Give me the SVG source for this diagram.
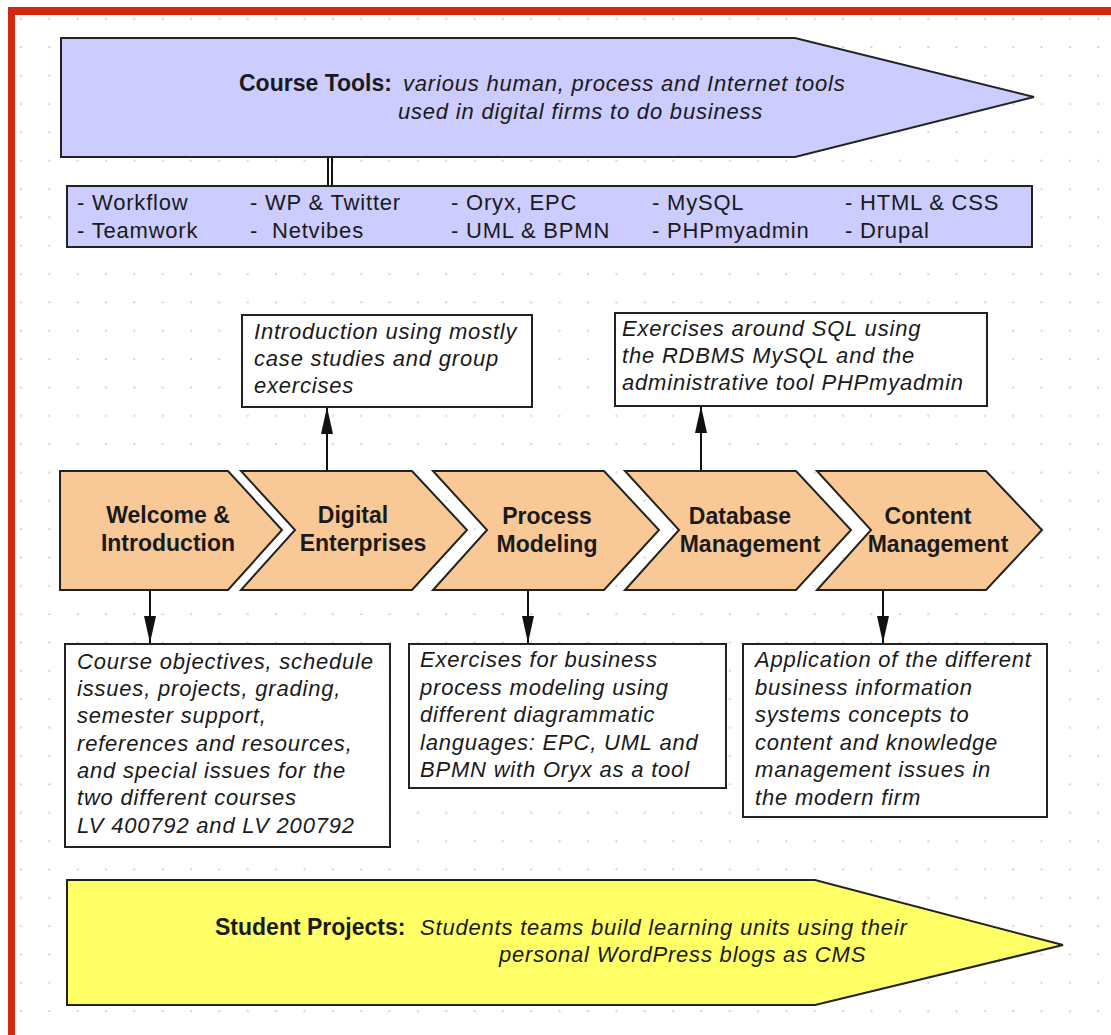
<svg xmlns="http://www.w3.org/2000/svg" width="1111" height="1035" viewBox="0 0 1111 1035">
<style>
.shape{stroke:#222;stroke-width:2;stroke-linejoin:miter}
.lav{fill:#ccccff}
.peach{fill:#f9c897}
.yel{fill:#ffff66}
.box{fill:#fff;stroke:#222;stroke-width:2}
.t{font-family:"Liberation Sans",Arial,sans-serif;fill:#1a1a1a}
.it{font-size:22px;font-style:italic;letter-spacing:0.8px}
.rg{font-size:22px;letter-spacing:0.8px}
.bd{font-size:23px;font-weight:bold}
.ch{font-size:23px;font-weight:bold;text-anchor:middle}
.con{stroke:#111;stroke-width:2;fill:none}
</style>
<defs>
<pattern id="grid" x="7" y="5" width="28.35" height="28.35" patternUnits="userSpaceOnUse">
<circle cx="14" cy="14" r="1" fill="#c4c4c4"/>
</pattern>
<marker id="arr" markerUnits="userSpaceOnUse" markerWidth="28" markerHeight="14" viewBox="0 -7 28 14" refX="27" refY="0" orient="auto">
<path d="M0,-6 L27,0 L0,6 z" fill="#111"/>
</marker>
</defs>
<rect x="0" y="0" width="1111" height="1035" fill="#fff"/>
<rect x="15" y="15" width="1096" height="1020" fill="url(#grid)"/>
<rect x="8" y="7" width="1103" height="8" fill="#d0290f"/>
<rect x="8" y="7" width="7" height="1028" fill="#d0290f"/>

<g id="connectors">
<line x1="328" y1="157" x2="328" y2="186" class="con" stroke-width="1.5"/>
<line x1="332" y1="157" x2="332" y2="186" class="con" stroke-width="1.5"/>
<line x1="327" y1="471" x2="327" y2="407" class="con" marker-end="url(#arr)"/>
<line x1="701" y1="471" x2="701" y2="406" class="con" marker-end="url(#arr)"/>
<line x1="150" y1="590" x2="150" y2="643" class="con" marker-end="url(#arr)"/>
<line x1="528" y1="590" x2="528" y2="643" class="con" marker-end="url(#arr)"/>
<line x1="883" y1="590" x2="883" y2="643" class="con" marker-end="url(#arr)"/>
</g>

<g id="course-tools">
<polygon class="shape lav" points="61,38 795,38 1034,97 795,157 61,157"/>
<text class="t bd" x="239" y="91">Course Tools:</text>
<text class="t it" x="403" y="91">various human, process and Internet tools</text>
<text class="t it" x="398" y="119">used in digital firms to do business</text>
</g>

<g id="tools-list">
<rect class="shape lav" x="67" y="186" width="965" height="61"/>
<text class="t rg" x="77" y="210">- Workflow</text>
<text class="t rg" x="77" y="238">- Teamwork</text>
<text class="t rg" x="250" y="210">- WP &amp; Twitter</text>
<text class="t rg" x="250" y="238" xml:space="preserve">-  Netvibes</text>
<text class="t rg" x="451" y="210">- Oryx, EPC</text>
<text class="t rg" x="451" y="238">- UML &amp; BPMN</text>
<text class="t rg" x="652" y="210">- MySQL</text>
<text class="t rg" x="652" y="238">- PHPmyadmin</text>
<text class="t rg" x="845" y="210">- HTML &amp; CSS</text>
<text class="t rg" x="845" y="238">- Drupal</text>
</g>

<g id="note-digital">
<rect class="box" x="242" y="315" width="290" height="92"/>
<text class="t it" x="254" y="339">Introduction using mostly</text>
<text class="t it" x="254" y="366">case studies and group</text>
<text class="t it" x="254" y="393">exercises</text>
</g>

<g id="note-database">
<rect class="box" x="615" y="313" width="372" height="93"/>
<text class="t it" x="622" y="336">Exercises around SQL using</text>
<text class="t it" x="622" y="363">the RDBMS MySQL and the</text>
<text class="t it" x="622" y="390">administrative tool PHPmyadmin</text>
</g>

<g id="step-welcome">
<polygon class="shape peach" points="60,471 228,471 282,530 228,590 60,590"/>
<text class="t ch" x="168" y="523">Welcome &amp;</text>
<text class="t ch" x="168" y="551">Introduction</text>
</g>
<g id="step-digital">
<polygon class="shape peach" points="241,471 412,471 467,530 412,590 241,590 295,530"/>
<text class="t ch" x="353" y="523">Digital</text>
<text class="t ch" x="363" y="551">Enterprises</text>
</g>
<g id="step-process">
<polygon class="shape peach" points="433,471 604,471 659,530 604,590 433,590 487,530"/>
<text class="t ch" x="547" y="524">Process</text>
<text class="t ch" x="547" y="552">Modeling</text>
</g>
<g id="step-database">
<polygon class="shape peach" points="625,471 796,471 851,530 796,590 625,590 679,530"/>
<text class="t ch" x="740" y="524">Database</text>
<text class="t ch" x="750" y="552">Management</text>
</g>
<g id="step-content">
<polygon class="shape peach" points="817,471 986,471 1042,530 986,590 817,590 871,530"/>
<text class="t ch" x="928" y="524">Content</text>
<text class="t ch" x="938" y="552">Management</text>
</g>

<g id="note-welcome">
<rect class="box" x="65" y="644" width="325" height="203"/>
<text class="t it" x="77" y="669">Course objectives, schedule</text>
<text class="t it" x="77" y="696">issues, projects, grading,</text>
<text class="t it" x="77" y="723">semester support,</text>
<text class="t it" x="77" y="751">references and resources,</text>
<text class="t it" x="77" y="778">and special issues for the</text>
<text class="t it" x="77" y="805">two different courses</text>
<text class="t it" x="77" y="833">LV 400792 and LV 200792</text>
</g>

<g id="note-process">
<rect class="box" x="409" y="644" width="317" height="144"/>
<text class="t it" x="420" y="667">Exercises for business</text>
<text class="t it" x="420" y="695">process modeling using</text>
<text class="t it" x="420" y="722">different diagrammatic</text>
<text class="t it" x="420" y="750">languages: EPC, UML and</text>
<text class="t it" x="420" y="777">BPMN with Oryx as a tool</text>
</g>

<g id="note-content">
<rect class="box" x="743" y="644" width="304" height="173"/>
<text class="t it" x="755" y="667">Application of the different</text>
<text class="t it" x="755" y="695">business information</text>
<text class="t it" x="755" y="722">systems concepts to</text>
<text class="t it" x="755" y="750">content and knowledge</text>
<text class="t it" x="755" y="777">management issues in</text>
<text class="t it" x="755" y="805">the modern firm</text>
</g>

<g id="student-projects">
<polygon class="shape yel" points="67,880 815,880 1063,945 815,1005 67,1005"/>
<text class="t bd" x="215" y="935">Student Projects:</text>
<text class="t it" x="420" y="935">Students teams build learning units using their</text>
<text class="t it" x="499" y="962">personal WordPress blogs as CMS</text>
</g>
</svg>
